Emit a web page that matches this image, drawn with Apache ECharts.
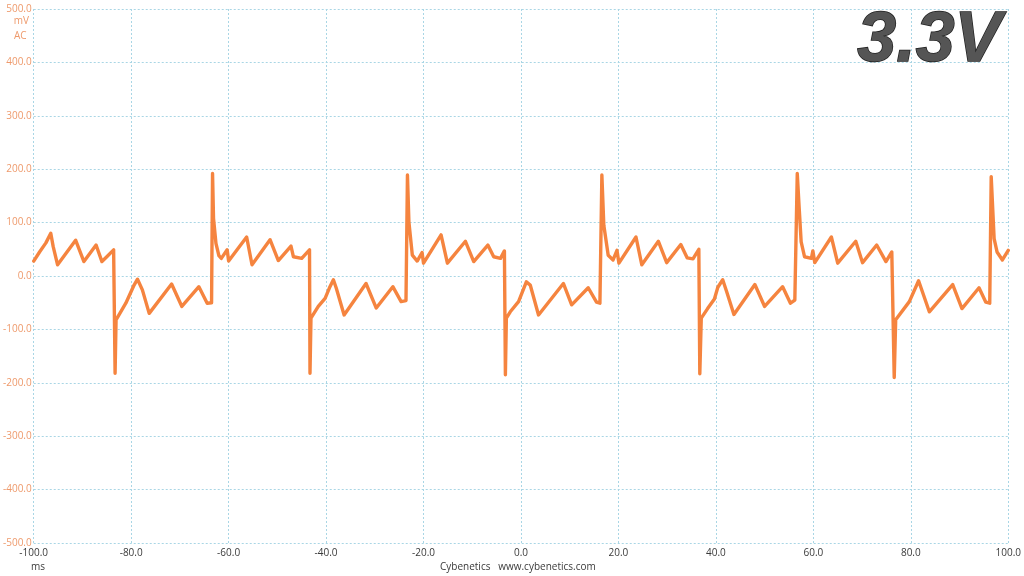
<!DOCTYPE html>
<html>
<head>
<meta charset="utf-8">
<script src="https://cdn.jsdelivr.net/npm/echarts@6/dist/echarts.min.js"></script>
<style>
html,body{margin:0;padding:0;background:#fff;}
#chart{width:1024px;height:576px;}
</style>
</head>
<body>
<div id="chart"></div>
<script>
// Time (ms) and ripple (mV)
var timeMs = [
  -100.0, -98.8, -97.5, -96.5, -96.0, -95.1, -91.4, -89.7, -87.2, -86.0, -85.0, -83.6, -83.4,
  -83.3, -83.1, -81.1, -79.4, -78.7, -77.7, -76.3, -71.7, -69.6, -66.1, -64.4, -63.5,
  -63.3, -63.1, -62.6, -62.0, -61.5, -60.3, -60.0, -56.3, -55.2, -51.5, -49.8, -47.2, -46.7, -45.0, -43.4,
  -43.3, -43.1, -41.6, -40.2, -39.2, -38.5, -37.9, -36.3, -31.8, -29.7, -26.3, -24.6, -23.6,
  -23.3, -23.0, -22.3, -21.3, -20.3, -20.0, -16.4, -15.1, -11.4, -9.7, -6.8, -5.6, -4.2, -3.4,
  -3.2, -3.0, -2.2, -0.5, 1.1, 1.9, 3.6, 8.7, 10.4, 13.8, 15.5, 16.2,
  16.6, 17.0, 17.9, 18.9, 19.7, 20.1, 23.6, 24.8, 28.2, 29.9, 32.8, 34.1, 35.3, 36.5,
  36.7, 37.0, 38.3, 39.7, 40.4, 41.4, 42.2, 43.7, 48.0, 50.0, 53.7, 55.3, 56.2,
  56.7, 57.1, 57.5, 58.2, 59.6, 59.9, 60.3, 63.7, 65.0, 68.7, 70.1, 73.0, 74.9, 76.1,
  76.6, 76.9, 79.7, 81.6, 83.8, 88.6, 90.5, 94.0, 95.4, 96.2,
  96.5, 97.1, 97.7, 98.8, 100.0
];
var rippleMv = [
  28, 45, 62, 80, 55, 21, 67, 27, 58, 27, 36, 49, 46,
  -182, -82, -51, -17, -6, -26, -70, -15, -57, -20, -51, -50,
  192, 108, 61, 38, 33, 49, 28, 73, 21, 68, 29, 56, 36, 33, 49,
  -182, -79, -57, -42, -20, -7, -23, -73, -14, -60, -20, -48, -46,
  189, 101, 39, 28, 44, 24, 77, 24, 65, 27, 58, 36, 33, 47,
  -185, -79, -67, -48, -11, -17, -73, -14, -54, -22, -49, -51,
  189, 95, 39, 30, 48, 24, 73, 21, 65, 25, 59, 34, 32, 50,
  -183, -79, -61, -43, -21, -7, -29, -72, -16, -57, -20, -51, -45,
  192, 126, 64, 36, 33, 47, 25, 73, 24, 65, 25, 58, 27, 45,
  -190, -82, -48, -9, -67, -16, -61, -22, -49, -51,
  186, 70, 45, 30, 48
];
var yUnits = ['mV', 'AC'];
var xUnit = 'ms';
var footerText = 'Cybenetics   www.cybenetics.com';
var railLabel = '3.3V';

var seriesData = timeMs.map(function (t, i) { return [t, rippleMv[i]]; });

var chart = echarts.init(document.getElementById('chart'), null, {renderer: 'canvas'});
var gridColor = '#A9D6E5';
var labelFont = '"Open Sans", "Noto Sans", sans-serif';

chart.setOption({
  animation: false,
  backgroundColor: '#ffffff',
  grid: {left: 30, right: 14, top: 9, bottom: 33, containLabel: false},
  xAxis: {
    type: 'value', min: -100, max: 100, interval: 20,
    axisLine: {show: false},
    axisTick: {show: false},
    splitLine: {show: true, lineStyle: {color: gridColor, type: [2, 2], width: 1}},
    axisLabel: {
      color: '#3a3a3a', fontSize: 10, fontFamily: labelFont, margin: 5,
      formatter: function (v) { return v.toFixed(1); }
    }
  },
  yAxis: {
    type: 'value', min: -500, max: 500, interval: 100,
    axisLine: {show: false},
    axisTick: {show: false},
    splitLine: {show: true, lineStyle: {color: gridColor, type: [2, 2], width: 1}},
    axisLabel: {
      color: '#EE9A6C', fontSize: 10, fontFamily: labelFont, margin: 2,
      formatter: function (v) { return v.toFixed(1); }
    }
  },
  series: [{
    type: 'line',
    data: seriesData,
    showSymbol: false,
    symbol: 'none',
    lineStyle: {color: '#F5843F', width: 3.4, join: 'round', cap: 'round'},
    z: 3
  }],
  graphic: [
    {type: 'text', right: 995, top: 16, style: {text: yUnits[0], fill: '#EE9A6C', font: '10px ' + labelFont, align: 'right'}},
    {type: 'text', left: 14, top: 31, style: {text: yUnits[1], fill: '#EE9A6C', font: '10px ' + labelFont}},
    {type: 'text', left: 31, top: 562, style: {text: xUnit, fill: '#3a3a3a', font: '10px ' + labelFont}},
    {type: 'text', left: 440, top: 562, style: {text: footerText, fill: '#3a3a3a', font: '10px ' + labelFont}},
    {type: 'text', right: 22, top: 6, z: 10, style: {
      text: railLabel,
      font: 'italic bold 70px "Liberation Sans", Arial, sans-serif',
      fill: '#555555',
      stroke: '#222222', lineWidth: 1.5,
      shadowColor: 'rgba(0,0,0,0.4)', shadowBlur: 3, shadowOffsetX: 2, shadowOffsetY: 2
    }}
  ]
});
</script>
</body>
</html>
